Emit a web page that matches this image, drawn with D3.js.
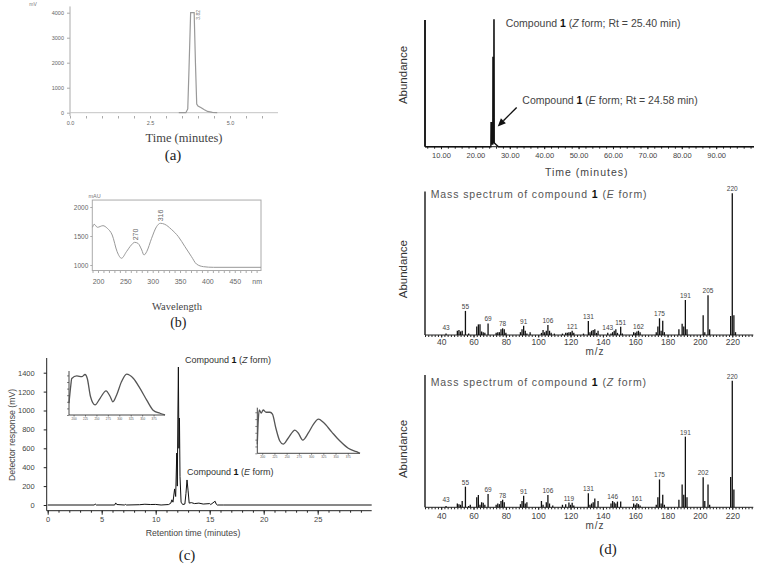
<!DOCTYPE html>
<html><head><meta charset="utf-8">
<script src="https://cdn.jsdelivr.net/npm/d3@7"></script>
<style>
body{margin:0;background:#fff;}
svg{display:block;}
</style></head><body>
<svg id="fig" width="757" height="564"></svg>
<script>
// ================= DATA =================
// (a) HPLC chromatogram [time (min), signal (mV)]
const aTrace = [[3.40,0],[3.62,0],[3.68,150],[3.72,1800],[3.77,4000],[3.88,4000],[3.92,2000],[3.96,350],[4.00,270],[4.10,200],[4.20,120],[4.30,50],[4.45,10],[4.60,0]];
const aYTicks = [0,1000,2000,3000,4000];
const aXLabels = [0,2.5,5.0];
const aPeak = {t:3.82, label:"3.82"};

// (b) UV spectrum [wavelength (nm), mAU]
const bSpectrum = [[190,1650],[193,1702],[199,1650],[209,1678],[217,1633],[226,1517],[235,1229],[243,1116],[252,1229],[261,1345],[267,1391],[273,1374],[280,1259],[284,1172],[289,1229],[298,1460],[307,1660],[314,1719],[322,1702],[334,1616],[347,1488],[359,1316],[371,1143],[380,1017],[393,971],[411,960],[498,960]];
const bYTicks = [1000,1500,2000];
const bXTicks = [200,250,300,350,400,450];
const bPeaks = [[270,1391],[316,1719]];

// (c) HPLC chromatogram [retention time (min), response (mV)]
const cTrace = [[0,0],[4.3,0],[4.4,10],[4.5,0],[6.2,0],[6.3,22],[6.4,5],[7.1,0],[7.2,6],[7.3,0],[8.5,3],[9.0,8],[9.5,5],[10.0,6],[10.5,0],[11.2,5],[11.4,20],[11.5,55],[11.6,30],[11.75,170],[11.85,90],[11.95,550],[12.0,200],[12.05,900],[12.1,1460],[12.15,600],[12.2,920],[12.25,300],[12.35,30],[12.5,5],[12.7,10],[12.8,120],[12.9,265],[13.0,150],[13.1,20],[13.3,25],[13.6,15],[14.0,20],[14.4,10],[15.0,15],[15.1,5],[15.5,40],[15.6,10],[15.7,0],[16.3,0],[30,0]];
const cYTicks = [0,200,400,600,800,1000,1200,1400];
const cXTicks = [0,5,10,15,20,25];
// inset UV spectra [wavelength (nm), relative absorbance]
const insetZ = [[190,27],[194,68],[196,83],[207,89],[218,87],[225,92],[230,83],[237,42],[247,23],[258,38],[271,55],[280,42],[286,30],[294,45],[305,76],[316,93],[331,83],[345,61],[360,34],[374,11],[389,4],[400,0]];
const insetE = [[190,20],[192,73],[194,95],[198,88],[202,95],[208,90],[216,90],[221,86],[228,55],[236,27],[243,20],[253,33],[267,51],[274,44],[283,29],[294,44],[305,64],[315,75],[325,68],[342,47],[359,27],[376,11],[393,3.5],[400,0]];
const insetXTicks = [200,225,250,275,300,325,350,375];
const insetYTicks = [0,15,30,45,60,75,90];

// (d) GC-MS total ion chromatogram [time (min), relative abundance]
const ticTrace = [[5.35,0],[24.5,0],[24.55,19],[24.8,19],[24.85,2],[25.05,2],[25.1,71],[25.15,3],[25.33,3],[25.38,100],[25.43,100],[25.48,3],[25.9,2],[26.3,1],[26.7,0],[101,0]];
const ticXTicks = [10,20,30,40,50,60,70,80,90];
// mass spectra [m/z, relative abundance %]
const msE = [[43,1],[50,3],[51,3.5],[52,2.5],[53,3],[55,17],[57,1],[62,6],[63,7.5],[64,7.5],[65,2.5],[66,2],[67,1.5],[69,8.2],[74,1.5],[75,2],[76,2],[77,4],[78,4.7],[79,4],[80,1.5],[89,2],[90,4],[91,6.6],[92,3],[93,1],[95,2],[102,1.5],[103,3.5],[104,2],[105,3],[106,7],[107,3],[108,1.5],[110,1],[115,1],[117,1.5],[118,1.5],[119,2],[120,2],[121,3],[122,1.5],[128,1],[131,9.9],[132,2],[133,3],[134,3.5],[135,4],[136,1.5],[137,3],[143,1.5],[145,1],[146,2],[147,3],[148,4],[149,1.5],[151,5.9],[152,1],[159,2],[160,1.5],[161,2.5],[162,3],[163,2],[173,2],[174,6],[175,11.8],[176,3],[177,10],[178,2],[187,4],[189,8],[190,6],[191,24.7],[192,4],[202,14],[203,2],[205,28],[206,4],[219,13.4],[220,100],[221,14],[222,2]];
const msELabels = [43,55,69,78,91,106,121,131,143,151,162,175,191,205,220];
const msZ = [[43,1],[50,3],[51,2.5],[52,2],[53,5],[55,16.3],[57,1],[58,2],[62,8],[63,9.7],[64,2],[65,4],[66,3.5],[67,2],[69,10.5],[74,2],[75,3],[76,2.5],[77,5],[78,6],[79,4],[89,2.5],[90,5],[91,9.2],[92,3],[93,4],[102,5],[103,2],[105,4],[106,9.7],[107,3],[109,1.5],[115,2],[117,2.5],[119,3.7],[120,2],[121,3.5],[122,1.5],[131,11],[132,2],[133,3],[134,4],[135,7],[137,5],[145,3],[146,5],[147,4],[148,3],[149,4.5],[151,4.5],[159,3],[160,2],[161,3.2],[162,2.5],[163,1.5],[173,2],[174,8],[175,22],[176,3],[177,10],[178,2],[187,6],[189,18],[190,10],[191,55.8],[192,8],[202,23.7],[203,5],[205,18],[206,2],[219,24],[220,100],[221,14]];
const msZLabels = [43,55,69,78,91,106,119,131,146,161,175,191,202,220];
const msXTicks = [40,60,80,100,120,140,160,180,200,220];

// ================= DRAWING =================
const SANS = '"Liberation Sans", Arial, Helvetica, sans-serif';
const NARROW = '"Liberation Sans Narrow", "Arial Narrow", "Liberation Sans", Arial, sans-serif';
const SERIF = '"Liberation Serif", "Times New Roman", serif';
const svg = d3.select("#fig");
const fmtInt = d3.format("d");

function addText(g, x, y, str, o = {}) {
  const t = g.append("text").attr("x", x).attr("y", y).text(str)
    .attr("font-family", o.family || SANS).attr("font-size", o.size || 10)
    .attr("fill", o.fill || "#333").attr("text-anchor", o.anchor || "start");
  if (o.rotate) t.attr("transform", `rotate(${o.rotate},${x},${y})`);
  if (o.ls) t.attr("letter-spacing", o.ls);
  return t;
}
function addRich(g, x, y, parts, o = {}) {
  const t = g.append("text").attr("x", x).attr("y", y)
    .attr("font-family", o.family || SANS).attr("font-size", o.size || 10)
    .attr("fill", o.fill || "#333");
  if (o.ls) t.attr("letter-spacing", o.ls);
  parts.forEach(([s, st]) => {
    const sp = t.append("tspan").text(s);
    if (st === "b") sp.attr("font-weight", "bold").attr("fill", o.bold || "#111");
    if (st === "i") sp.attr("font-style", "italic");
  });
  return t;
}
function styleAxis(sel, o) {
  sel.select(".domain").remove();
  sel.selectAll(".tick line").attr("stroke", o.stroke || "#333").attr("stroke-width", o.sw || 1);
  sel.selectAll(".tick text").attr("font-family", o.family || SANS).attr("font-size", o.size || 8).attr("fill", o.fill || "#333");
}

// ---------- (a) ----------
{
  const g = svg.append("g");
  const x = d3.scaleLinear().domain([0, 6.5]).range([70, 278]);
  const y = d3.scaleLinear().domain([0, 4000]).range([112.7, 12.7]);
  g.append("line").attr("x1", x(0)).attr("x2", x(0)).attr("y1", y(4250)).attr("y2", 116).attr("stroke", "#aaa");
  g.append("g").attr("transform", `translate(${x(0)},0)`)
    .call(d3.axisLeft(y).tickValues(aYTicks).tickSize(3).tickPadding(3).tickFormat(fmtInt))
    .call(styleAxis, {stroke: "#aaa", size: 5.5, fill: "#666"});
  g.append("g").attr("transform", "translate(0,116)")
    .call(d3.axisBottom(x).tickValues(d3.range(0, 6.01, 0.5)).tickSize(2.5).tickPadding(3)
      .tickFormat(d => aXLabels.includes(d) ? d.toFixed(1) : ""))
    .call(styleAxis, {stroke: "#aaa", size: 5.5, fill: "#666"});
  g.append("line").attr("x1", x(0)).attr("x2", x(6.5)).attr("y1", y(0)).attr("y2", y(0)).attr("stroke", "#c4c4c4");
  g.append("path").attr("d", d3.line().x(d => x(d[0])).y(d => y(d[1]))(aTrace))
    .attr("fill", "none").attr("stroke", "#999").attr("stroke-width", 1.2);
  addText(g, x(aPeak.t) + 8, y(4000) + 7, aPeak.label, {size: 5, fill: "#777", rotate: -90});
  addText(g, 33, 6, "mV", {size: 5, fill: "#777", anchor: "middle"});
  addText(g, 184, 141.5, "Time (minutes)", {family: SERIF, size: 12.5, fill: "#444", anchor: "middle"});
  addText(g, 173, 160, "(a)", {family: SERIF, size: 15, fill: "#222", anchor: "middle"});
}

// ---------- (b) ----------
{
  const g = svg.append("g");
  const x = d3.scaleLinear().domain([189.6, 498]).range([92.3, 261]);
  const y = d3.scaleLinear().domain([1000, 2000]).range([265, 207]);
  const yTop = y(2120), yBot = y(905);
  g.append("rect").attr("x", x(189.6)).attr("y", yTop).attr("width", x(498) - x(189.6)).attr("height", yBot - yTop)
    .attr("fill", "none").attr("stroke", "#aaa");
  g.append("g").attr("transform", `translate(${x(189.6)},0)`)
    .call(d3.axisLeft(y).tickValues(bYTicks).tickSize(2).tickPadding(2).tickFormat(fmtInt))
    .call(styleAxis, {stroke: "#aaa", size: 6.5, fill: "#666", family: NARROW});
  g.append("g").attr("transform", `translate(0,${yBot})`)
    .call(d3.axisBottom(x).tickValues(d3.range(190, 495, 10)).tickSize(2.5).tickPadding(6.5)
      .tickFormat(d => bXTicks.includes(d) ? d : (d === 490 ? "nm" : "")))
    .call(styleAxis, {stroke: "#aaa", size: 7, fill: "#666", family: NARROW});
  g.append("path").attr("d", d3.line().curve(d3.curveMonotoneX).x(d => x(d[0])).y(d => y(d[1]))(bSpectrum))
    .attr("fill", "none").attr("stroke", "#999").attr("stroke-width", 1);
  bPeaks.forEach(([w, v]) => addText(g, x(w) + 2, y(v) - 2, String(w), {size: 7, fill: "#666", rotate: -90}));
  addText(g, 94.5, 198, "mAU", {size: 5.5, fill: "#777", anchor: "middle"});
  addText(g, 177, 309.5, "Wavelength", {family: SERIF, size: 10.5, fill: "#444", anchor: "middle"});
  addText(g, 178.3, 326.5, "(b)", {family: SERIF, size: 14, fill: "#222", anchor: "middle"});
}

// ---------- (c) ----------
{
  const g = svg.append("g");
  const x = d3.scaleLinear().domain([0, 30]).range([47.7, 371.7]);
  const y = d3.scaleLinear().domain([0, 1400]).range([505, 372.7]);
  const axY = 510.7;
  g.append("line").attr("x1", 46.7).attr("x2", 46.7).attr("y1", 358).attr("y2", axY).attr("stroke", "#222");
  g.append("line").attr("x1", 46.7).attr("x2", x(30)).attr("y1", axY).attr("y2", axY).attr("stroke", "#222");
  g.append("g").attr("transform", "translate(46.7,0)")
    .call(d3.axisLeft(y).tickValues(cYTicks).tickSize(3).tickPadding(9).tickFormat(fmtInt))
    .call(styleAxis, {stroke: "#222", size: 7.5, fill: "#444", family: NARROW});
  g.append("g").attr("transform", `translate(0,${axY})`)
    .call(d3.axisBottom(x).tickValues(d3.range(0, 30, 1)).tickSize(2).tickFormat(""))
    .call(styleAxis, {stroke: "#222"});
  g.append("g").attr("transform", `translate(0,${axY})`)
    .call(d3.axisBottom(x).tickValues(cXTicks).tickSize(4).tickPadding(2).tickFormat(fmtInt))
    .call(styleAxis, {stroke: "#222", size: 7.5, fill: "#444", family: NARROW});
  g.append("path").attr("d", d3.line().x(d => x(d[0])).y(d => y(d[1]))(cTrace))
    .attr("fill", "none").attr("stroke", "#111").attr("stroke-width", 1);

  // insets
  function inset(data, x0, x1, yb, yt) {
    const ix = d3.scaleLinear().domain([190, 400]).range([x0, x1]);
    const iy = d3.scaleLinear().domain([0, 100]).range([yb, yt]);
    const ig = g.append("g");
    ig.append("line").attr("x1", x0).attr("x2", x0).attr("y1", yt).attr("y2", yb).attr("stroke", "#333").attr("stroke-width", 0.9);
    ig.append("line").attr("x1", x0).attr("x2", x1).attr("y1", yb).attr("y2", yb).attr("stroke", "#333").attr("stroke-width", 0.9);
    ig.append("g").attr("transform", `translate(${x0},0)`)
      .call(d3.axisLeft(iy).tickValues(insetYTicks).tickSize(2).tickFormat(""))
      .call(styleAxis, {stroke: "#333", sw: 0.6});
    ig.append("g").attr("transform", `translate(0,${yb})`)
      .call(d3.axisBottom(ix).tickValues(insetXTicks).tickSize(1.5).tickPadding(1))
      .call(styleAxis, {stroke: "#333", sw: 0.6, size: 3, fill: "#555"});
    ig.append("path").attr("d", d3.line().curve(d3.curveMonotoneX).x(d => ix(d[0])).y(d => iy(d[1]))(data))
      .attr("fill", "none").attr("stroke", "#555").attr("stroke-width", 1.3);
  }
  inset(insetZ, 69, 165, 415, 371);
  inset(insetE, 257.3, 360, 453.3, 407.7);

  addRich(g, 185, 362.5, [["Compound ", ""], ["1", "b"], [" (", ""], ["Z", "i"], [" form)", ""]], {size: 9, fill: "#333"});
  addRich(g, 187, 475, [["Compound ", ""], ["1", "b"], [" (", ""], ["E", "i"], [" form)", ""]], {size: 9, fill: "#333"});
  addText(g, 15, 435, "Detector response (mV)", {size: 8.7, fill: "#444", anchor: "middle", rotate: -90});
  addText(g, 193, 536, "Retention time (minutes)", {size: 8.7, fill: "#444", anchor: "middle"});
  addText(g, 187, 560, "(c)", {family: SERIF, size: 15, fill: "#222", anchor: "middle"});
}

// ---------- (d) top: TIC ----------
{
  const g = svg.append("g");
  const x = d3.scaleLinear().domain([5.35, 101]).range([425, 754]);
  const y = d3.scaleLinear().domain([0, 100]).range([146.7, 20]);
  g.append("line").attr("x1", x(5.35)).attr("x2", x(101)).attr("y1", y(0)).attr("y2", y(0)).attr("stroke", "#222");
  g.append("g").attr("transform", `translate(0,${y(0)})`)
    .call(d3.axisBottom(x).tickValues(d3.range(6, 101, 2)).tickSize(2).tickFormat(""))
    .call(styleAxis, {stroke: "#222"});
  g.append("g").attr("transform", `translate(0,${y(0)})`)
    .call(d3.axisBottom(x).tickValues(ticXTicks).tickSize(2.5).tickPadding(3).tickFormat(d3.format(".2f")))
    .call(styleAxis, {stroke: "#222", size: 7.5, fill: "#444"});
  g.append("line").attr("x1", x(5.35)).attr("x2", x(5.35)).attr("y1", y(100)).attr("y2", y(0)).attr("stroke", "#222").attr("stroke-width", 2);
  g.append("path").attr("d", d3.line().x(d => x(d[0])).y(d => y(d[1]))(ticTrace))
    .attr("fill", "none").attr("stroke", "#111").attr("stroke-width", 1.4);
  // arrow to E-form peak
  const tip = [x(26.5), y(16)], from = [x(32.0), y(31)];
  const dx = tip[0] - from[0], dy = tip[1] - from[1], L = Math.hypot(dx, dy), ux = dx / L, uy = dy / L;
  const bx = tip[0] - 8 * ux, by = tip[1] - 8 * uy;
  g.append("line").attr("x1", from[0]).attr("y1", from[1]).attr("x2", bx).attr("y2", by).attr("stroke", "#111").attr("stroke-width", 1.4);
  g.append("polygon").attr("points", [[tip[0], tip[1]], [bx + 3.5 * uy, by - 3.5 * ux], [bx - 3.5 * uy, by + 3.5 * ux]].map(p => p.join(",")).join(" "))
    .attr("fill", "#111");
  addRich(g, 505.7, 27, [["Compound ", ""], ["1", "b"], [" (", ""], ["Z", "i"], [" form; Rt = 25.40 min)", ""]], {size: 10.5, fill: "#444"});
  addRich(g, 522.3, 104, [["Compound ", ""], ["1", "b"], [" (", ""], ["E", "i"], [" form; Rt = 24.58 min)", ""]], {size: 10.5, fill: "#444"});
  addText(g, 407, 75, "Abundance", {size: 11.5, fill: "#333", anchor: "middle", rotate: -90});
  addText(g, 586.7, 175.5, "Time (minutes)", {size: 10.5, fill: "#444", anchor: "middle", ls: 1});
}

// ---------- (d) mass spectra ----------
function massSpectrum(data, labels, base, top, form, axisTop, labelDy, mzY) {
  const g = svg.append("g");
  const x = d3.scaleLinear().domain([30, 233]).range([425, 753.3]);
  const y = d3.scaleLinear().domain([0, 100]).range([base, top]);
  g.append("line").attr("x1", x(30)).attr("x2", x(30)).attr("y1", y(axisTop)).attr("y2", y(0)).attr("stroke", "#333").attr("stroke-width", 1.6);
  g.append("line").attr("x1", x(30)).attr("x2", x(233)).attr("y1", y(0)).attr("y2", y(0)).attr("stroke", "#222");
  g.append("g").attr("transform", `translate(0,${y(0)})`)
    .call(d3.axisBottom(x).tickValues(d3.range(30, 233, 2)).tickSize(2).tickFormat(""))
    .call(styleAxis, {stroke: "#222"});
  g.append("g").attr("transform", `translate(0,${y(0)})`)
    .call(d3.axisBottom(x).tickValues(msXTicks).tickSize(2.5).tickPadding(labelDy).tickFormat(fmtInt))
    .call(styleAxis, {stroke: "#222", size: 8.5, fill: "#444"});
  g.selectAll("line.bar").data(data).join("line").attr("class", "bar")
    .attr("x1", d => x(d[0])).attr("x2", d => x(d[0]))
    .attr("y1", y(0)).attr("y2", d => y(d[1]))
    .attr("stroke", "#111").attr("stroke-width", 1.3);
  const lookup = new Map(data);
  g.selectAll("text.pk").data(labels).join("text").attr("class", "pk")
    .attr("x", d => x(d)).attr("y", d => Math.min(y(lookup.get(d)) - 2, y(0) - 5))
    .attr("text-anchor", "middle").attr("font-family", SANS).attr("font-size", 6.5).attr("fill", "#444")
    .text(d => d);
  addRich(g, 430.7, top + 5, [["Mass spectrum of compound ", ""], ["1", "b"], [" (", ""], [form, "i"], [" form)", ""]], {size: 10.5, fill: "#555", ls: 0.9});
  addText(g, 407, (top + base) / 2 + 5, "Abundance", {size: 11.5, fill: "#333", anchor: "middle", rotate: -90});
  addText(g, 595, mzY, "m/z", {size: 10, fill: "#444", anchor: "middle", ls: 1});
}
massSpectrum(msE, msELabels, 335, 193.3, "E", 101.2, 1, 354.5);
massSpectrum(msZ, msZLabels, 507.3, 380.7, "Z", 104.5, 3, 528.8);
addText(svg, 608, 554, "(d)", {family: SERIF, size: 15, fill: "#222", anchor: "middle"});
</script></body></html>
